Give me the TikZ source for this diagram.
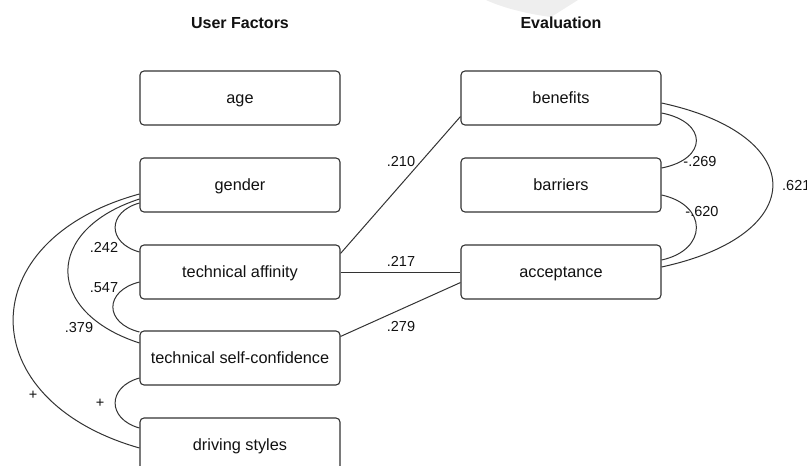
\documentclass[tikz,border=0pt]{standalone}
\usepackage{fontspec}
\setmainfont{Liberation Sans}
\usetikzlibrary{calc}
\definecolor{ink}{HTML}{111111}
\definecolor{edge}{HTML}{333333}
\definecolor{wm}{HTML}{EEEEEE}
\begin{document}
\begin{tikzpicture}[x=1pt,y=-1pt,
  varbox/.style={draw=edge,line width=1.1pt,rounded corners=4pt,minimum width=200pt,minimum height=54pt,inner sep=0pt,text height=11.5pt,text depth=0pt,font=\fontsize{16.3}{19}\selectfont,text=ink},
  title/.style={font=\bfseries\fontsize{16}{19}\selectfont,text=ink},
  coef/.style={font=\fontsize{14.5}{17}\selectfont,text=ink,inner sep=0pt},
  link/.style={draw=edge,line width=1pt}]
\useasboundingbox (0,0) rectangle (807,466);
% faint watermark
\fill[wm] (486,0) .. controls (503,8) and (528,14) .. (551,17) -- (578,0) -- cycle;
% titles
\node[title] (tuf) at (240,23) {User Factors};
\node[title] (tev) at (561,23) {Evaluation};
% left column
\node[varbox] (age) at (240,98) {age};
\node[varbox] (gen) at (240,185) {gender};
\node[varbox] (ta) at (240,272) {technical affinity};
\node[varbox] (sc) at (240,358) {technical self-confidence};
\node[varbox] (ds) at (240,445) {driving styles};
% right column
\node[varbox] (ben) at (561,98) {benefits};
\node[varbox] (bar) at (561,185) {barriers};
\node[varbox] (acc) at (561,272) {acceptance};
% paths between columns
\draw[link] ($(ta.north east)+(0,9)$) -- ($(ben.south west)+(0,-9)$);
\draw[link] (ta.east) -- (acc.west);
\draw[link] ($(sc.north east)+(0,6)$) -- ($(acc.south west)+(0,-17)$);
\node[coef] (l210) at (401,162) {.210};
\node[coef] (l217) at (401,261) {.217};
\node[coef] (l279) at (401,327) {.279};
% left correlations
\draw[link] ($(gen.west)+(0,18)$) .. controls (107,212) and (107,243) .. ($(ta.west)+(0,-20)$);
\draw[link] ($(ta.west)+(0,10)$) .. controls (104,291) and (104,323) .. ($(sc.west)+(0,-26)$);
\draw[link] ($(gen.west)+(0,14)$) .. controls (44,230) and (44,312) .. ($(sc.west)+(0,-15)$);
\draw[link] ($(gen.west)+(0,9)$) .. controls (-29,240) and (-29,400) .. ($(ds.west)+(0,3)$);
\draw[link] ($(sc.west)+(0,20)$) .. controls (107,387) and (107,419) .. ($(ds.west)+(0,-17)$);
\node[coef] (l242) at (104,247) {.242};
\node[coef] (l547) at (104,288) {.547};
\node[coef] (l379) at (79,328) {.379};
\node[coef] (lp1) at (33,395) {+};
\node[coef] (lp2) at (100,403) {+};
% right correlations
\draw[link] ($(ben.east)+(0,15)$) .. controls (708,122) and (708,159) .. ($(bar.east)+(0,-17)$);
\draw[link] ($(bar.east)+(0,10)$) .. controls (708,205) and (708,250) .. ($(acc.east)+(0,-12)$);
\draw[link] ($(ben.east)+(0,5)$) .. controls (810,135) and (810,235) .. ($(acc.east)+(0,-5)$);
\node[coef] (l269) at (700,162) {-.269};
\node[coef] (l620) at (702,212) {-.620};
\node[coef,anchor=west] (l621) at (782,186) {.621};
\end{tikzpicture}
\end{document}
